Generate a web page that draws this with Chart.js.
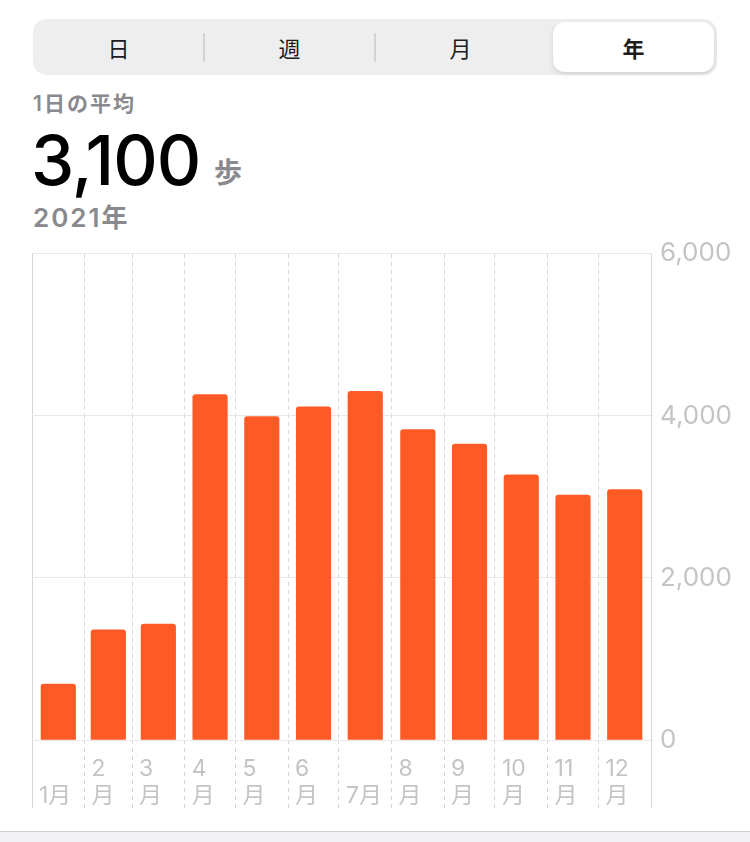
<!DOCTYPE html>
<html lang="ja">
<head>
<meta charset="utf-8">
<script src="https://cdn.jsdelivr.net/npm/chart.js@4.4.1/dist/chart.umd.min.js"></script>
<style>
  body { margin: 0; width: 750px; height: 842px; background: #fff; position: relative; overflow: hidden;
         font-family: Inter, "Noto Sans CJK JP", sans-serif; }
  .seg { position: absolute; left: 33px; top: 19px; width: 684px; height: 56px; background: #eeeeef; border-radius: 14px; }
  .sel { position: absolute; left: 520px; top: 3px; width: 161px; height: 50px; background: #fff; border-radius: 12px;
         box-shadow: 0 2px 5px rgba(0,0,0,0.13); }
  .sep { position: absolute; top: 14px; width: 1.5px; height: 29px; background: #d3d3d6; }
  .tab { position: absolute; top: 0; height: 56px; line-height: 56px; text-align: center; font-size: 22px; color: #1c1c1e;
         font-family: "Noto Sans CJK JP", sans-serif; }
  .label { position: absolute; left: 33px; color: #8a8a8e; font-weight: 600; line-height: 1; white-space: nowrap; letter-spacing: 2px; }
  .big { position: absolute; left: 31px; top: 126px; font-size: 69px; line-height: 1; color: #000; font-weight: 500; letter-spacing: -1px; }
  .unit { position: absolute; left: 214px; top: 157px; font-size: 28px; line-height: 1; color: #8a8a8e; font-weight: 700;
          font-family: "Noto Sans CJK JP", sans-serif; }
  #wrap { position: absolute; left: 0; top: 229px; width: 750px; height: 579px; }
  .footer { position: absolute; left: 0; top: 831px; width: 750px; height: 11px; background: #f2f2f7; border-top: 1px solid #cfcfd6; }
</style>
</head>
<body>
<div class="seg">
  <div class="sel"></div>
  <div class="sep" style="left:170px"></div>
  <div class="sep" style="left:341px"></div>
  <div class="tab" style="left:0;width:171px">日</div>
  <div class="tab" style="left:171px;width:171px">週</div>
  <div class="tab" style="left:342px;width:171px">月</div>
  <div class="tab" style="left:520px;width:161px;font-weight:700">年</div>
</div>
<div class="label" style="top:93px;font-size:21px">1日の平均</div>
<div class="big">3,100</div>
<div class="unit">歩</div>
<div class="label" style="top:205px;font-size:26px">2021年</div>
<div id="wrap"><canvas id="steps"></canvas></div>
<div class="footer"></div>
<script>
const months = ['1月', '2月', '3月', '4月', '5月', '6月', '7月', '8月', '9月', '10月', '11月', '12月'];
const monthDays = [31, 28, 31, 30, 31, 30, 31, 31, 30, 31, 30, 31];
const dailySteps = [690, 1360, 1430, 4260, 3990, 4110, 4300, 3830, 3650, 3270, 3020, 3090];
const tickLabels = [['', '1月'], ['2', '月'], ['3', '月'], ['4', '月'], ['5', '月'], ['6', '月'], ['', '7月'],
                    ['8', '月'], ['9', '月'], ['10', '月'], ['11', '月'], ['12', '月'], ''];
const yTicks = [0, 2000, 4000, 6000];

// month boundaries (day of year) and bar centres
const starts = [0];
monthDays.forEach(d => starts.push(starts[starts.length - 1] + d));
const mids = monthDays.map((d, i) => starts[i] + d / 2);
const last = starts.length - 1;
const edge = c => c.index === 0 || c.index === last;

const ctx = document.getElementById('steps');

new Chart(ctx, {
    type: 'bar',
    data: {
        labels: months,
        datasets: [{
            label: '歩数',
            data: dailySteps.map((v, i) => ({ x: mids[i], y: v })),
            backgroundColor: '#fe5a25',
            borderRadius: { topLeft: 3, topRight: 3 },
            borderSkipped: 'start',
            barThickness: 34.5
        }]
    },
    options: {
        responsive: true,
        maintainAspectRatio: false,
        animation: false,
        layout: { padding: { left: 32, top: 16, right: 0, bottom: 0 } },
        plugins: { legend: { display: false }, tooltip: { enabled: false } },
        scales: {
            x: {
                type: 'linear',
                min: 0,
                max: 365,
                offset: false,
                afterBuildTicks: s => { s.ticks = starts.map(v => ({ value: v })); },
                afterFit: s => { s.height = 68; },
                grid: {
                    offset: false,
                    color: c => edge(c) ? '#d4d4d8' : '#d6d6da',
                    lineWidth: 1,
                    tickLength: 68,
                    tickBorderDash: c => edge(c) ? [] : [4, 4]
                },
                border: { display: false, dash: c => edge(c) ? [] : [4, 4] },
                ticks: {
                    autoSkip: false,
                    maxRotation: 0,
                    align: 'start',
                    labelOffset: 7,
                    padding: -53,
                    color: '#c4c4c7',
                    font: { size: 23, family: 'Inter, "Noto Sans CJK JP", sans-serif', lineHeight: 1.2 },
                    callback: (v, i) => tickLabels[i]
                }
            },
            y: {
                position: 'right',
                min: 0,
                max: 6000,
                afterBuildTicks: s => { s.ticks = yTicks.map(v => ({ value: v })); },
                afterFit: s => { s.width = 99; },
                grid: { color: '#e8e8ea', lineWidth: 1, drawTicks: false },
                border: { display: false },
                ticks: {
                    padding: 9,
                    color: '#c4c4c7',
                    font: { size: 26, family: 'Inter, "Noto Sans", sans-serif', lineHeight: 1.2 },
                    callback: v => v.toLocaleString('en-US')
                }
            }
        }
    }
});
</script>
</body>
</html>
